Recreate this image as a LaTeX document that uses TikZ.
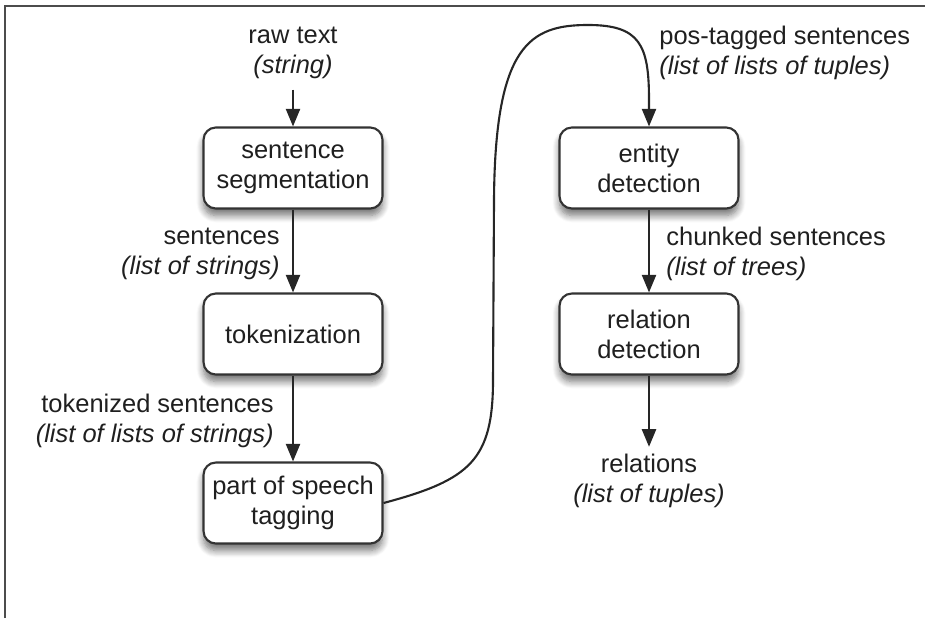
\documentclass[tikz,border=0pt]{standalone}
\usepackage{fontspec}
\setmainfont{Liberation Sans}
\usetikzlibrary{arrows.meta,shadows.blur}
\begin{document}
\begin{tikzpicture}[x=0.02cm,y=-0.02cm,
  every node/.style={font=\fontsize{14.5pt}{17pt}\selectfont,text=black!88},
  stage/.style={draw=black!80,line width=1.2pt,rounded corners=7pt,fill=white,
    minimum width=3.58cm,minimum height=1.62cm,align=center,
    blur shadow={shadow xshift=0pt,shadow yshift=-4pt,shadow blur radius=4pt,
      shadow blur steps=8,shadow opacity=55}},
  data/.style={align=center,inner sep=0pt},
  flow/.style={-{Triangle[width=8pt,length=10pt]},line width=1.2pt,draw=black!85}]
    \useasboundingbox (0,0) rectangle (925,618);
    \draw[line width=1.5pt,black!70] (5,618) -- (5,6) -- (925,6);

    \node[stage] (seg) at (293,168) {sentence\\segmentation};
    \node[stage] (tok) at (293,334) {tokenization};
    \node[stage] (pos) at (293,503) {part of speech\\tagging};
    \node[stage] (ent) at (649,168) {entity\\detection};
    \node[stage] (rel) at (649,334) {relation\\detection};

    \node[data] (raw) at (293,53) {raw text\\\textit{(string)}};
    \node[data,anchor=east,align=right] (sent) at (280,254) {sentences\\\textit{(list of strings)}};
    \node[data,anchor=east,align=right] (toksent) at (274,421) {tokenized sentences\\\textit{(list of lists of strings)}};
    \node[data,anchor=west,align=left] (postag) at (659,53) {pos-tagged sentences\\\textit{(list of lists of tuples)}};
    \node[data,anchor=west,align=left] (chunk) at (666,254) {chunked sentences\\\textit{(list of trees)}};
    \node[data] (rels) at (649,481) {relations\\\textit{(list of tuples)}};

    \draw[flow,shorten <=6pt] (raw) -- (seg);
    \draw[flow] (seg) -- (tok);
    \draw[flow] (tok) -- (pos);
    \draw[flow] (ent) -- (rel);
    \draw[flow,shorten >=4pt] (rel) -- (rels);
    \draw[flow] (pos.east) .. controls (470,480) and (493,460) .. (493,380) -- (494,200)
        .. controls (495,45) and (530,25) .. (588,25) .. controls (640,25) and (649,45) .. (649,100) -- (ent.north);
\end{tikzpicture}
\end{document}
